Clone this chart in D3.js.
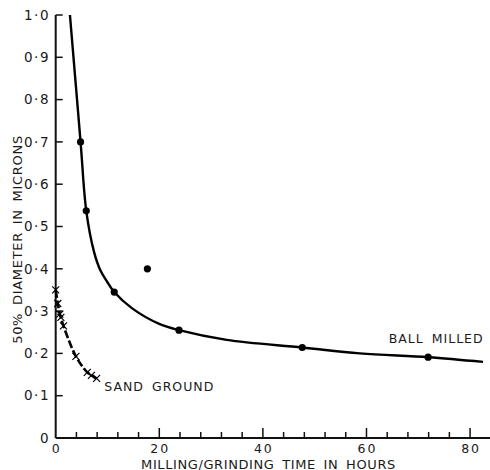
<!DOCTYPE html>
<html>
<head>
<meta charset="utf-8">
<script src="https://cdn.jsdelivr.net/npm/d3@7"></script>
<style>
  html, body { margin: 0; padding: 0; background: #fff; }
  svg { display: block; }
  text { font-family: "DejaVu Sans", sans-serif; fill: #1a1a1a; }
</style>
</head>
<body>
<svg id="chart" width="490" height="470"></svg>
<script>
// Ball-milled measurements: [hours, 50% diameter in microns]
const ballMilledHours = [4.8, 5.9, 11.3, 17.7, 23.8, 47.6, 71.9];
const ballMilledDiam  = [0.70, 0.537, 0.345, 0.40, 0.255, 0.214, 0.191];

// Hand-drawn smooth curve through the ball-milled results
const ballFitHours = [2.75, 4.8, 5.9, 7.4, 8.6, 9.9, 11.3, 14.7, 20.1, 23.8, 33, 47.6, 58.7, 71.9, 82.5];
const ballFitDiam  = [1.0, 0.70, 0.537, 0.44, 0.397, 0.37, 0.345, 0.307, 0.269, 0.255, 0.232, 0.214, 0.200, 0.191, 0.180];

// Sand-ground measurements
const sandHours = [0, 0.4, 0.8, 1.0, 1.5, 3.9, 6.1, 6.9, 7.9];
const sandDiam  = [0.35, 0.318, 0.293, 0.285, 0.265, 0.193, 0.155, 0.148, 0.141];

// Axis ticks
const xMajorTicks = [0, 20, 40, 60, 80];
const xMinorTicks = [4, 8, 12, 16, 24, 28, 32, 36, 44, 48, 52, 56, 64, 68, 72, 76, 84];
const yTicks = [0, 0.1, 0.2, 0.3, 0.4, 0.5, 0.6, 0.7, 0.8, 0.9, 1.0];

const svg = d3.select("#chart");

const x = d3.scaleLinear().domain([0, 84]).range([55.7, 490.8]);
const y = d3.scaleLinear().domain([0, 1]).range([438, 15]);

const fmtY = d => d === 0 ? "0" : d3.format(".1f")(d).replace(".", "\u00B7");

// Axis lines
svg.append("line")
  .attr("x1", x(0)).attr("x2", 490)
  .attr("y1", y(0)).attr("y2", y(0))
  .attr("stroke", "#111").attr("stroke-width", 2);
svg.append("line")
  .attr("x1", x(0)).attr("x2", x(0))
  .attr("y1", y(0)).attr("y2", y(1))
  .attr("stroke", "#111").attr("stroke-width", 2);

// Inward ticks on the x axis
svg.selectAll(".xmaj").data(xMajorTicks.filter(d => d > 0)).join("line")
  .attr("x1", d => x(d)).attr("x2", d => x(d))
  .attr("y1", y(0)).attr("y2", y(0) - 10)
  .attr("stroke", "#111").attr("stroke-width", 1.5);
svg.selectAll(".xmin").data(xMinorTicks).join("line")
  .attr("x1", d => x(d)).attr("x2", d => x(d))
  .attr("y1", y(0)).attr("y2", y(0) - 6)
  .attr("stroke", "#111").attr("stroke-width", 1.5);

// Inward ticks on the y axis
svg.selectAll(".ytk").data(yTicks.filter(d => d > 0)).join("line")
  .attr("x1", x(0)).attr("x2", x(0) + 7)
  .attr("y1", d => y(d)).attr("y2", d => y(d))
  .attr("stroke", "#111").attr("stroke-width", 1.5);

// Tick labels
svg.selectAll(".xl").data(xMajorTicks).join("text")
  .attr("x", d => x(d) + 1).attr("y", 452.5)
  .attr("text-anchor", "middle")
  .attr("font-size", 12.5).attr("letter-spacing", 2)
  .text(d => d);
svg.selectAll(".yl").data(yTicks).join("text")
  .attr("x", 50).attr("y", d => y(d) + 4.7)
  .attr("text-anchor", "end")
  .attr("font-size", 13.5).attr("letter-spacing", 1.5)
  .text(fmtY);

// Axis titles
svg.append("text")
  .attr("x", 268.5).attr("y", 468.5)
  .attr("text-anchor", "middle")
  .attr("font-size", 13).attr("letter-spacing", 0.6).attr("word-spacing", 3)
  .text("MILLING/GRINDING TIME IN HOURS");
svg.append("text")
  .attr("transform", "translate(22,239.5) rotate(-90)")
  .attr("text-anchor", "middle")
  .attr("font-size", 13).attr("letter-spacing", 0.7).attr("word-spacing", 3)
  .text("50% DIAMETER IN MICRONS");

// Ball-milled curve and points
const ballFit = ballFitHours.map((h, i) => [h, ballFitDiam[i]]);
svg.append("path")
  .datum(ballFit)
  .attr("fill", "none").attr("stroke", "#000").attr("stroke-width", 2.4)
  .attr("d", d3.line().x(d => x(d[0])).y(d => y(d[1])).curve(d3.curveCatmullRom.alpha(0.5)));

svg.selectAll(".bm").data(ballMilledHours.map((h, i) => [h, ballMilledDiam[i]])).join("circle")
  .attr("cx", d => x(d[0])).attr("cy", d => y(d[1]))
  .attr("r", 3.6).attr("fill", "#000");

// Sand-ground dashed curve with cross markers
const sand = sandHours.map((h, i) => [h, sandDiam[i]]);
svg.append("path")
  .datum(sand)
  .attr("fill", "none").attr("stroke", "#000").attr("stroke-width", 2.6)
  .attr("stroke-dasharray", "8,2.5")
  .attr("d", d3.line().x(d => x(d[0])).y(d => y(d[1])).curve(d3.curveCatmullRom.alpha(0.5)));

const cs = 3.5;
svg.selectAll(".sg").data(sand).join("path")
  .attr("d", d => {
    const cx = x(d[0]), cy = y(d[1]);
    return `M${cx - cs},${cy - cs}L${cx + cs},${cy + cs}M${cx - cs},${cy + cs}L${cx + cs},${cy - cs}`;
  })
  .attr("stroke", "#000").attr("stroke-width", 1.2).attr("fill", "none");

// Series labels
svg.append("text")
  .attr("x", 388.7).attr("y", 343)
  .attr("font-size", 12.5).attr("letter-spacing", 1).attr("word-spacing", 3)
  .text("BALL MILLED");
svg.append("text")
  .attr("x", 104.3).attr("y", 391)
  .attr("font-size", 12.5).attr("letter-spacing", 1).attr("word-spacing", 3)
  .text("SAND GROUND");
</script>
</body>
</html>
